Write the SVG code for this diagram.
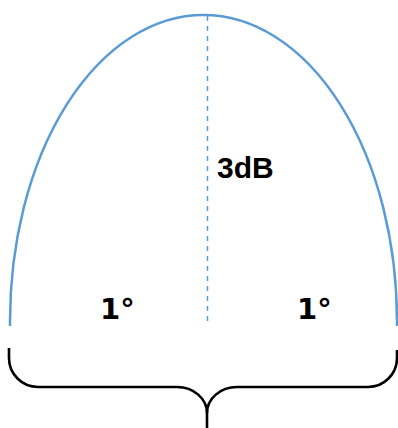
<svg xmlns="http://www.w3.org/2000/svg" width="398" height="428" viewBox="0 0 398 428">
<style>
.lobe{fill:none;stroke:#5b9bd5;stroke-width:2.5}
.axis{fill:none;stroke:#5b9bd5;stroke-width:1.5;stroke-dasharray:5 5}
.brace{fill:none;stroke:#000;stroke-width:2.6}
.lbl{font-family:"Liberation Sans",Arial,sans-serif;font-weight:bold;fill:#000}
.deg{font-family:"DejaVu Sans",sans-serif;font-weight:bold;fill:#000}
</style>
<rect width="398" height="428" fill="#fff"/>
<g id="beam">
<path class="lobe" d="M 10 326 L 10 321 A 193.5 306 0 0 1 397 321 L 397 326"/>
</g>
<g id="connectors">
<line class="axis" x1="207.5" y1="16" x2="207.5" y2="326"/>
<path class="brace" d="M 9 348 L 9 358 A 29 29 0 0 0 38 387 L 177 387 A 30 26 0 0 1 207 413 L 207 428"/>
<path class="brace" d="M 397 350 L 397 358 A 29 29 0 0 1 368 387 L 237 387 A 30 26 0 0 0 207 413"/>
</g>
<g id="label-3db">
<text class="lbl" x="217" y="178" font-size="30">3dB</text>
</g>
<g id="label-left">
<text class="deg" x="100" y="319" font-size="29">1°</text>
</g>
<g id="label-right">
<text class="deg" x="297" y="319" font-size="29">1°</text>
</g>
</svg>
